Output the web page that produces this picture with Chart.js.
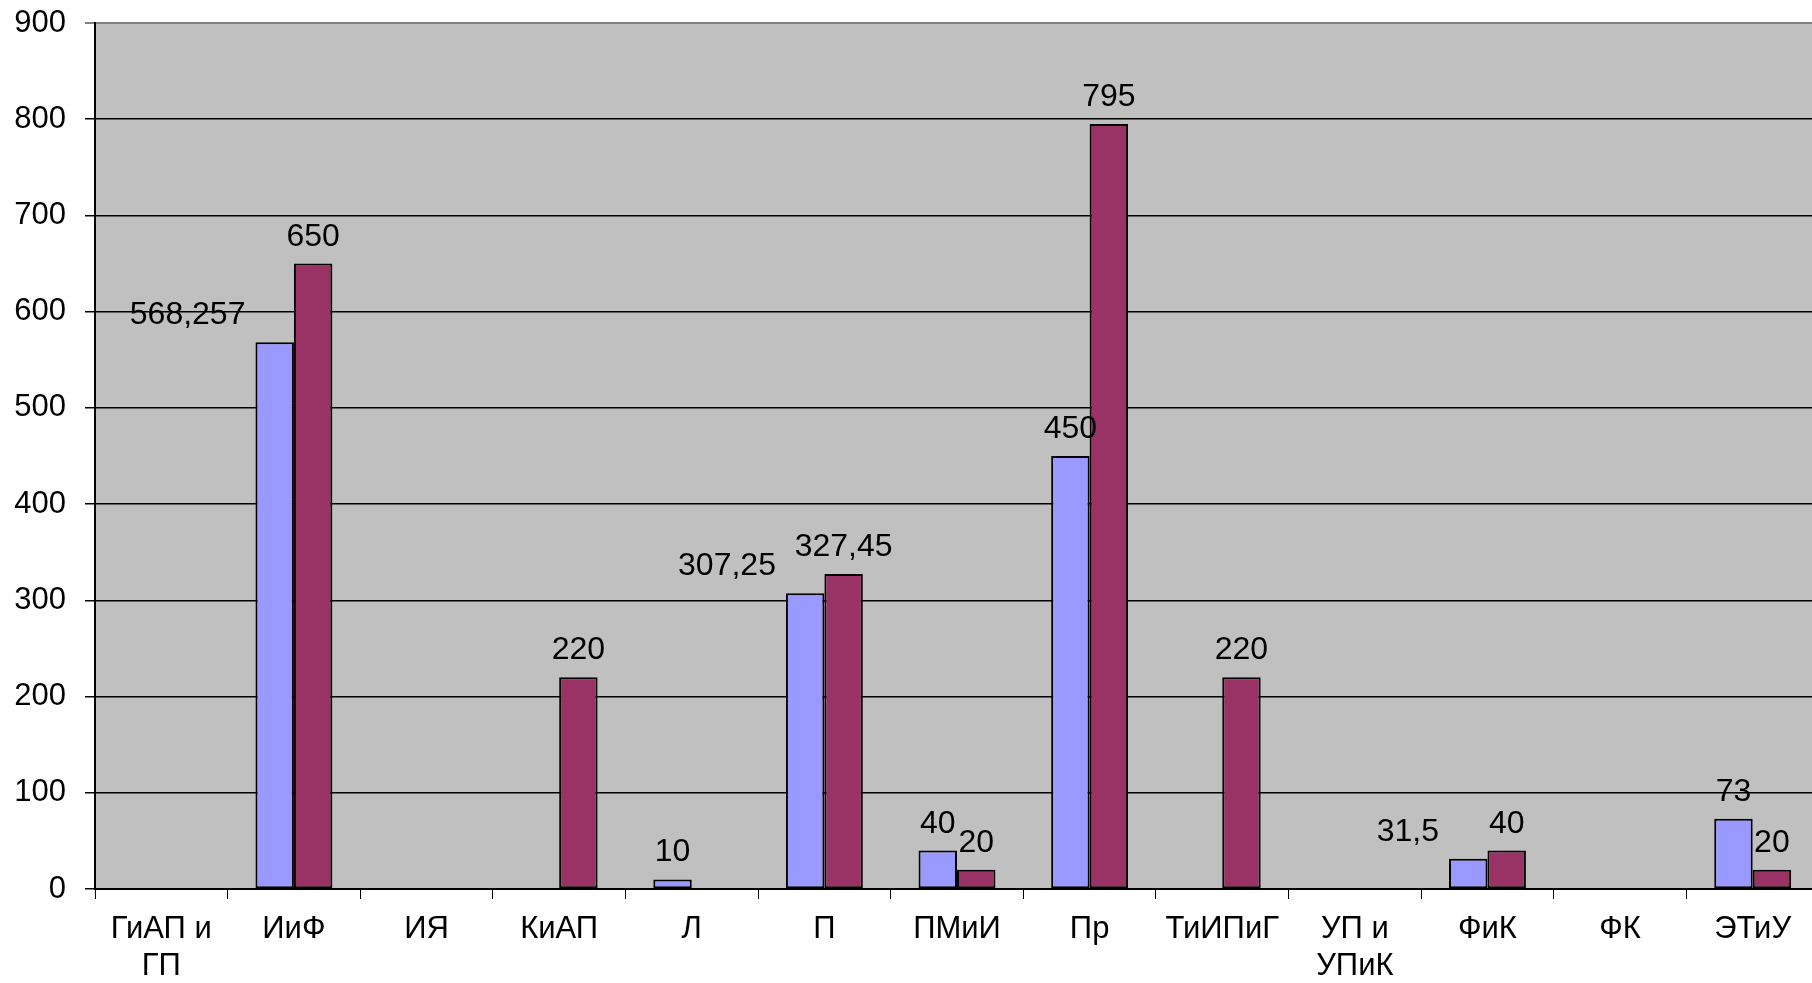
<!DOCTYPE html>
<html>
<head>
<meta charset="utf-8">
<script src="https://cdn.jsdelivr.net/npm/chart.js@4"></script>
<style>
  html, body { margin:0; padding:0; background:#fff; overflow:hidden; }
  #wrap { width:1819px; height:983px; }
</style>
</head>
<body>
<div id="wrap"><canvas id="grafico"></canvas></div>
<script>
const categorias = [
    ["ГиАП и", "ГП"], "ИиФ", "ИЯ", "КиАП", "Л", "П", "ПМиИ", "Пр",
    "ТиИПиГ", ["УП и", "УПиК"], "ФиК", "ФК", "ЭТиУ"
];
const serie1 = [null, 568.257, null, null, 10, 307.25, 40, 450, null, null, 31.5, null, 73];
const serie2 = [null, 650, null, 220, null, 327.45, 20, 795, 220, null, 40, null, 20];
const yMin = 0;
const yMax = 900;
const yStep = 100;

const fonte = "'Liberation Sans', Arial, sans-serif";

function formatarNumero(v){
    return String(v).replace(".", ",");
}

const fundoPlot = {
    id:"fundoPlot",
    beforeDraw(chart){
        const a = chart.chartArea;
        const ctx = chart.ctx;
        ctx.save();
        ctx.fillStyle = "#c0c0c0";
        ctx.fillRect(a.left, a.top, a.right - a.left, a.bottom - a.top);
        ctx.restore();
    }
};

const rotulos = {
    id:"rotulos",
    afterDatasetsDraw(chart){
        const ctx = chart.ctx;
        ctx.save();
        ctx.font = "32px " + fonte;
        ctx.fillStyle = "#000";
        ctx.textBaseline = "alphabetic";
        chart.data.datasets.forEach((ds, i)=>{
            const meta = chart.getDatasetMeta(i);
            meta.data.forEach((bar, j)=>{
                const v = ds.data[j];
                if(v === null || v === undefined) return;
                const txt = formatarNumero(v);
                const y = bar.y - 18;
                if(i === 0 && !Number.isInteger(v)){
                    ctx.textAlign = "right";
                    ctx.fillText(txt, bar.x - bar.width / 2 - 10, y);
                } else {
                    ctx.textAlign = "center";
                    ctx.fillText(txt, bar.x, y);
                }
            });
        });
        ctx.restore();
    }
};

new Chart(document.getElementById("grafico"), {
    type:"bar",
    data:{
        labels:categorias,
        datasets:[
            {
                data:serie1,
                backgroundColor:"#9999ff",
                borderColor:"#000",
                borderWidth:2,
                borderSkipped:false,
                barPercentage:1,
                categoryPercentage:0.58
            },
            {
                data:serie2,
                backgroundColor:"#993366",
                borderColor:"#000",
                borderWidth:2,
                borderSkipped:false,
                barPercentage:1,
                categoryPercentage:0.58
            }
        ]
    },
    options:{
        responsive:true,
        maintainAspectRatio:false,
        animation:false,
        layout:{ padding:{ left:13, right:0, top:23, bottom:0 } },
        plugins:{
            legend:{ display:false },
            tooltip:{ enabled:false }
        },
        scales:{
            x:{
                afterFit:(s)=>{ s.height = 94; },
                grid:{
                    offset:true,
                    drawOnChartArea:false,
                    drawTicks:true,
                    tickLength:10,
                    color:"#000"
                },
                border:{ color:"#000", width:2 },
                ticks:{
                    color:"#000",
                    font:{ family:fonte, size:31, lineHeight:1.2 },
                    padding:12,
                    maxRotation:0,
                    autoSkip:false
                }
            },
            y:{
                min:yMin,
                max:yMax,
                afterFit:(s)=>{ s.width = 82; s.paddingTop = 0; s.paddingBottom = 0; },
                grid:{
                    color:(c)=> c.tick && c.tick.value === yMax ? "#808080" : "#000",
                    lineWidth:(c)=> c.tick && c.tick.value === yMax ? 2 : 1.5,
                    tickLength:10
                },
                border:{ color:"#000", width:2 },
                ticks:{
                    stepSize:yStep,
                    color:"#000",
                    font:{ family:fonte, size:31 },
                    padding:19
                }
            }
        }
    },
    plugins:[fundoPlot, rotulos]
});
</script>
</body>
</html>
